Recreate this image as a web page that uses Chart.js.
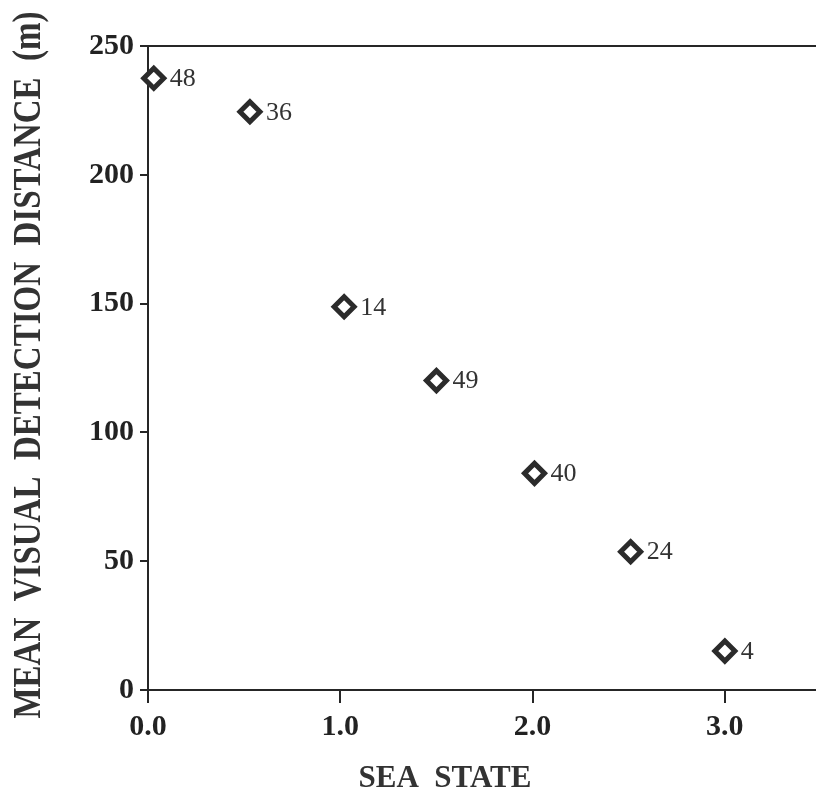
<!DOCTYPE html>
<html>
<head>
<meta charset="utf-8">
<script src="https://cdn.jsdelivr.net/npm/chart.js@4.4.1/dist/chart.umd.min.js"></script>
<style>
  html, body { margin: 0; padding: 0; background: #ffffff; overflow: hidden; }
  #c { display: block; }
</style>
</head>
<body>
<canvas id="c" width="816" height="794"></canvas>
<script>
// ---- data ----
const seaState    = [0.03, 0.53, 1.02, 1.5, 2.01, 2.51, 3.0];
const distance    = [237.5, 224.5, 148.8, 120.1, 84.1, 53.7, 15.1];
const sampleSizes = ['48', '36', '14', '49', '40', '24', '4'];
const xTitle = 'SEA  STATE';
const yTitle = 'MEAN  VISUAL  DETECTION  DISTANCE  (m)';

const INK = '#262626';
const SERIF = "'Liberation Serif', 'Times New Roman', serif";

const points = seaState.map((x, i) => ({ x: x, y: distance[i] }));

const pointLabels = {
  id: 'pointLabels',
  afterDatasetsDraw(chart) {
    const ctx = chart.ctx;
    const meta = chart.getDatasetMeta(0);
    ctx.save();
    ctx.font = '26px ' + SERIF;
    ctx.fillStyle = '#333333';
    ctx.textAlign = 'left';
    ctx.textBaseline = 'middle';
    meta.data.forEach((el, i) => {
      ctx.fillText(sampleSizes[i], el.x + 16, el.y + 1);
    });
    ctx.restore();
  }
};

const frameAndTitles = {
  id: 'frameAndTitles',
  afterDraw(chart) {
    const ctx = chart.ctx;
    const a = chart.chartArea;
    ctx.save();
    // top frame line
    ctx.strokeStyle = INK;
    ctx.lineWidth = 2;
    ctx.beginPath();
    ctx.moveTo(a.left, a.top);
    ctx.lineTo(chart.width, a.top);
    ctx.stroke();
    // x title
    ctx.fillStyle = '#333333';
    ctx.font = 'bold 31px ' + SERIF;
    ctx.textAlign = 'center';
    ctx.textBaseline = 'alphabetic';
    ctx.fillText(xTitle, 445, 787);
    // y title (rotated)
    ctx.translate(40, 365);
    ctx.rotate(-Math.PI / 2);
    ctx.scale(1, 1.2);
    ctx.font = 'bold 33px ' + SERIF;
    ctx.textAlign = 'center';
    ctx.textBaseline = 'alphabetic';
    ctx.fillText(yTitle, 0, 0);
    ctx.restore();
  }
};

new Chart(document.getElementById('c'), {
  type: 'scatter',
  data: {
    datasets: [{
      data: points,
      pointStyle: 'rectRot',
      pointRadius: 10,
      pointHoverRadius: 10,
      pointBorderWidth: 5,
      borderColor: '#2b2b2b',
      backgroundColor: '#ffffff',
      pointBackgroundColor: '#ffffff',
      pointBorderColor: '#2b2b2b'
    }]
  },
  options: {
    responsive: false,
    animation: false,
    devicePixelRatio: 1,
    clip: false,
    layout: { autoPadding: false, padding: { left: 0, top: 46, right: 0, bottom: 0 } },
    plugins: {
      legend: { display: false },
      tooltip: { enabled: false }
    },
    scales: {
      x: {
        type: 'linear',
        min: 0,
        max: 3.474,
        afterFit(scale) {
          scale.height = 104;
          scale.paddingRight = 0;
          scale.paddingLeft = 0;
        },
        border: { display: true, color: INK, width: 2 },
        grid: { drawOnChartArea: false, drawTicks: true, tickLength: 13, color: INK, lineWidth: 2 },
        ticks: {
          stepSize: 1,
          includeBounds: false,
          maxRotation: 0,
          padding: 6,
          color: '#222222',
          font: { family: SERIF, size: 30, weight: 'bold' },
          callback: (v) => Number(v).toFixed(1)
        }
      },
      y: {
        type: 'linear',
        min: 0,
        max: 250,
        afterFit(scale) {
          scale.width = 148;
          scale.paddingTop = 0;
          scale.paddingBottom = 0;
        },
        border: { display: true, color: INK, width: 2 },
        grid: { drawOnChartArea: false, drawTicks: true, tickLength: 8, color: INK, lineWidth: 2 },
        ticks: {
          stepSize: 50,
          padding: 6,
          color: '#222222',
          font: { family: SERIF, size: 30, weight: 'bold' }
        }
      }
    }
  },
  plugins: [pointLabels, frameAndTitles]
});
</script>
</body>
</html>
